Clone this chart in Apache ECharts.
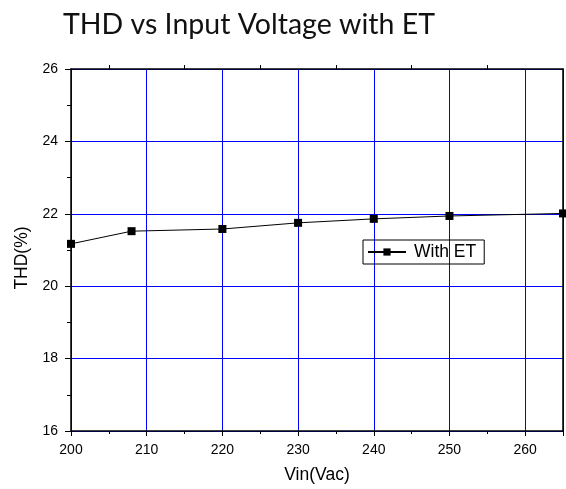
<!DOCTYPE html>
<html><head><meta charset="utf-8">
<script src="https://cdn.jsdelivr.net/npm/echarts@6/dist/echarts.min.js"></script>
<style>html,body{margin:0;padding:0;background:#fff}#c{width:566px;height:489px}</style>
</head><body><div id="c"></div>
<script>
const titleText = 'THD vs Input Voltage with ET';
const xLabel = 'Vin(Vac)';
const yLabel = 'THD(%)';
const seriesName = 'With ET';
const vin = [200, 208, 220, 230, 240, 250, 265];
const thd = [21.17, 21.52, 21.58, 21.75, 21.86, 21.94, 22.01];

const chart = echarts.init(document.getElementById('c'));
const font = 'Arial, "Liberation Sans", sans-serif';
const blackLine = {color: '#000', width: 1.5};
chart.setOption({
  animation: false,
  title: {text: titleText, left: 58, top: 5,
    textStyle: {fontFamily: 'Lato, "Open Sans", sans-serif', fontWeight: 'normal', fontSize: 28.5, color: '#111'}},
  legend: {data: [seriesName], left: 363, top: 240, orient: 'horizontal',
    borderColor: '#000', borderWidth: 1, padding: [3, 8, 3, 4], borderRadius: 0,
    itemWidth: 38, itemHeight: 9, itemGap: 4,
    textStyle: {fontFamily: font, fontSize: 17.5, color: '#000', padding: [0, 0, 0, 3]}},
  grid: {left: 71, right: 1, top: 69, bottom: 57, containLabel: false},
  xAxis: [{type: 'value', position: 'bottom', min: 200, max: 265, interval: 10,
    axisLine: {show: true, onZero: false, lineStyle: blackLine},
    axisTick: {show: true, inside: false, length: 5, lineStyle: {color: '#000'}},
    minorTick: {show: true, splitNumber: 2, length: 3, lineStyle: {color: '#000'}},
    splitLine: {show: true, lineStyle: {color: '#0000ff', width: 1}},
    axisLabel: {fontFamily: font, fontSize: 14, color: '#000', margin: 12,
      formatter: v => (v === 265 ? '' : String(v))},
    name: xLabel, nameLocation: 'middle', nameGap: 35,
    nameTextStyle: {fontFamily: font, fontSize: 17.5, color: '#000'}},
  {type: 'value', position: 'top', min: 200, max: 265, interval: 10,
    axisLine: {show: true, onZero: false, lineStyle: blackLine},
    axisTick: {show: false},
    minorTick: {show: true, splitNumber: 2, length: 4, lineStyle: {color: '#000'}},
    splitLine: {show: false}, axisLabel: {show: false}}],
  yAxis: [{type: 'value', position: 'left', min: 16, max: 26, interval: 2,
    axisLine: {show: true, onZero: false, lineStyle: blackLine},
    axisTick: {show: true, inside: false, length: 6, lineStyle: {color: '#000'}},
    minorTick: {show: true, splitNumber: 2, length: 4, lineStyle: {color: '#000'}},
    splitLine: {show: true, lineStyle: {color: '#0000ff', width: 1}},
    axisLabel: {fontFamily: font, fontSize: 14, color: '#000', margin: 13},
    name: yLabel, nameLocation: 'middle', nameGap: 31,
    nameTextStyle: {fontFamily: font, fontSize: 17.5, color: '#000', padding: [0, 16, 0, 0]}},
  {type: 'value', position: 'right', min: 16, max: 26, interval: 2,
    axisLine: {show: true, onZero: false, lineStyle: blackLine},
    axisTick: {show: false}, splitLine: {show: false}, axisLabel: {show: false}}],
  series: [{
    name: seriesName, type: 'line', xAxisIndex: 0, yAxisIndex: 0,
    data: vin.map((v, i) => [v, thd[i]]),
    symbol: 'rect', symbolSize: 8,
    lineStyle: {color: '#000', width: 1},
    itemStyle: {color: '#000'},
    z: 5
  }]
});
</script></body></html>
